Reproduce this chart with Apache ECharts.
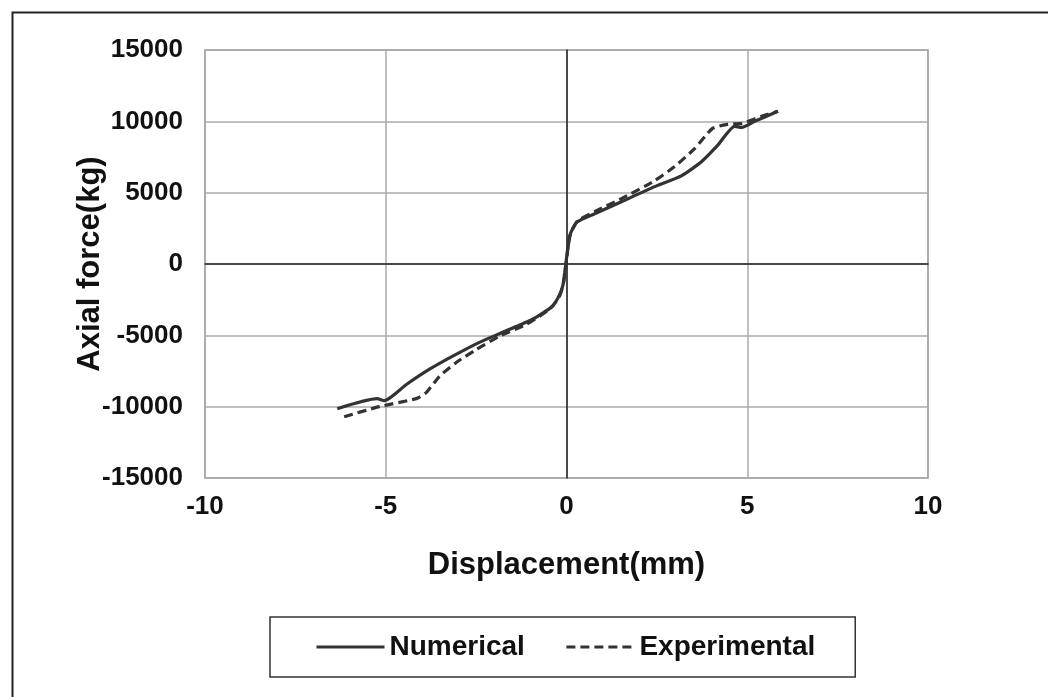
<!DOCTYPE html>
<html>
<head>
<meta charset="utf-8">
<script src="https://cdn.jsdelivr.net/npm/echarts@6/dist/echarts.min.js"></script>
<style>html,body{margin:0;padding:0;background:#fff;}#c{width:1048px;height:697px;}</style>
</head>
<body>
<div id="c"></div>
<script>
const numX = [-6.34, -5.24, -5.04, -4.43, -3.80, -3.16, -2.41, -1.77, -0.94, -0.39, -0.20, -0.10, -0.05, 0, 0.05, 0.12, 0.30, 0.78, 1.52, 2.44, 3.19, 3.74, 4.18, 4.65, 4.85, 5.21, 5.85];
const numY = [-10141, -9437, -9577, -8450, -7394, -6479, -5493, -4789, -3873, -2958, -2200, -1500, -600, 400, 1300, 2200, 2958, 3521, 4366, 5422, 6197, 7183, 8310, 9648, 9577, 10000, 10704];
const expX = [-6.15, -5.18, -4.16, -3.88, -3.52, -3.05, -2.49, -1.86, -1.11, -0.47, -0.20, -0.08, 0, 0.08, 0.30, 0.80, 1.52, 2.44, 2.99, 3.55, 4.04, 4.46, 4.85, 5.40, 5.85];
const expY = [-10704, -10000, -9437, -9014, -7887, -6901, -5986, -5070, -4225, -3169, -2300, -1300, 200, 1900, 3000, 3700, 4577, 5845, 6831, 8099, 9507, 9789, 9859, 10352, 10704];
const seriesNames = ['Numerical', 'Experimental'];
const xTitle = 'Displacement(mm)';
const yTitle = 'Axial force(kg)';

const zip = (a, b) => a.map((v, i) => [v, b[i]]);
const font = '"Liberation Sans", Arial, sans-serif';

const chart = echarts.init(document.getElementById('c'), null, {renderer: 'canvas'});
chart.setOption({
  animation: false,
  backgroundColor: '#fff',
  grid: {left: 205, top: 50, right: 120, bottom: 219, show: true, borderColor: '#999', borderWidth: 1.5},
  graphic: [{
    type: 'rect', left: 10, top: 10, silent: true,
    shape: {x: 0, y: 0, width: 1100, height: 800},
    style: {fill: 'none', stroke: '#222', lineWidth: 2}
  }],
  xAxis: {
    type: 'value', min: -10, max: 10, interval: 5,
    name: xTitle, nameLocation: 'middle', nameGap: 72,
    nameTextStyle: {fontFamily: font, fontWeight: 'bold', fontSize: 31, color: '#111'},
    axisLine: {onZero: true, lineStyle: {color: '#222', width: 1.5}},
    axisTick: {show: false},
    axisLabel: {fontFamily: font, fontWeight: 'bold', fontSize: 26, color: '#111', margin: 16},
    splitLine: {show: true, lineStyle: {color: '#aaa', width: 1.5}}
  },
  yAxis: {
    type: 'value', min: -15000, max: 15000, interval: 5000,
    name: yTitle, nameLocation: 'middle', nameGap: 99, nameRotate: 90, nameMoveOverlap: false,
    nameTextStyle: {fontFamily: font, fontWeight: 'bold', fontSize: 31, color: '#111'},
    axisLine: {onZero: true, lineStyle: {color: '#222', width: 1.5}},
    axisTick: {show: false},
    axisLabel: {fontFamily: font, fontWeight: 'bold', fontSize: 26, color: '#111', margin: 22,
                formatter: v => String(v)},
    splitLine: {show: true, lineStyle: {color: '#aaa', width: 1.5}}
  },
  legend: {
    left: 270, top: 617,
    padding: [16, 40, 16, 45],
    itemGap: 40, itemWidth: 68, itemHeight: 14,
    borderColor: '#333', borderWidth: 1.5,
    itemStyle: {opacity: 0},
    lineStyle: {width: 3},
    textStyle: {fontFamily: font, fontWeight: 'bold', fontSize: 28, color: '#111'},
    data: seriesNames
  },
  series: [
    {name: seriesNames[0], type: 'line', data: zip(numX, numY), smooth: 0.2, symbol: 'none',
     lineStyle: {color: '#333', width: 3.2}, itemStyle: {color: '#333'}},
    {name: seriesNames[1], type: 'line', data: zip(expX, expY), smooth: 0.2, symbol: 'none',
     lineStyle: {color: '#333', width: 3.2, type: [9, 5]}, itemStyle: {color: '#333'}}
  ]
});
</script>
</body>
</html>
